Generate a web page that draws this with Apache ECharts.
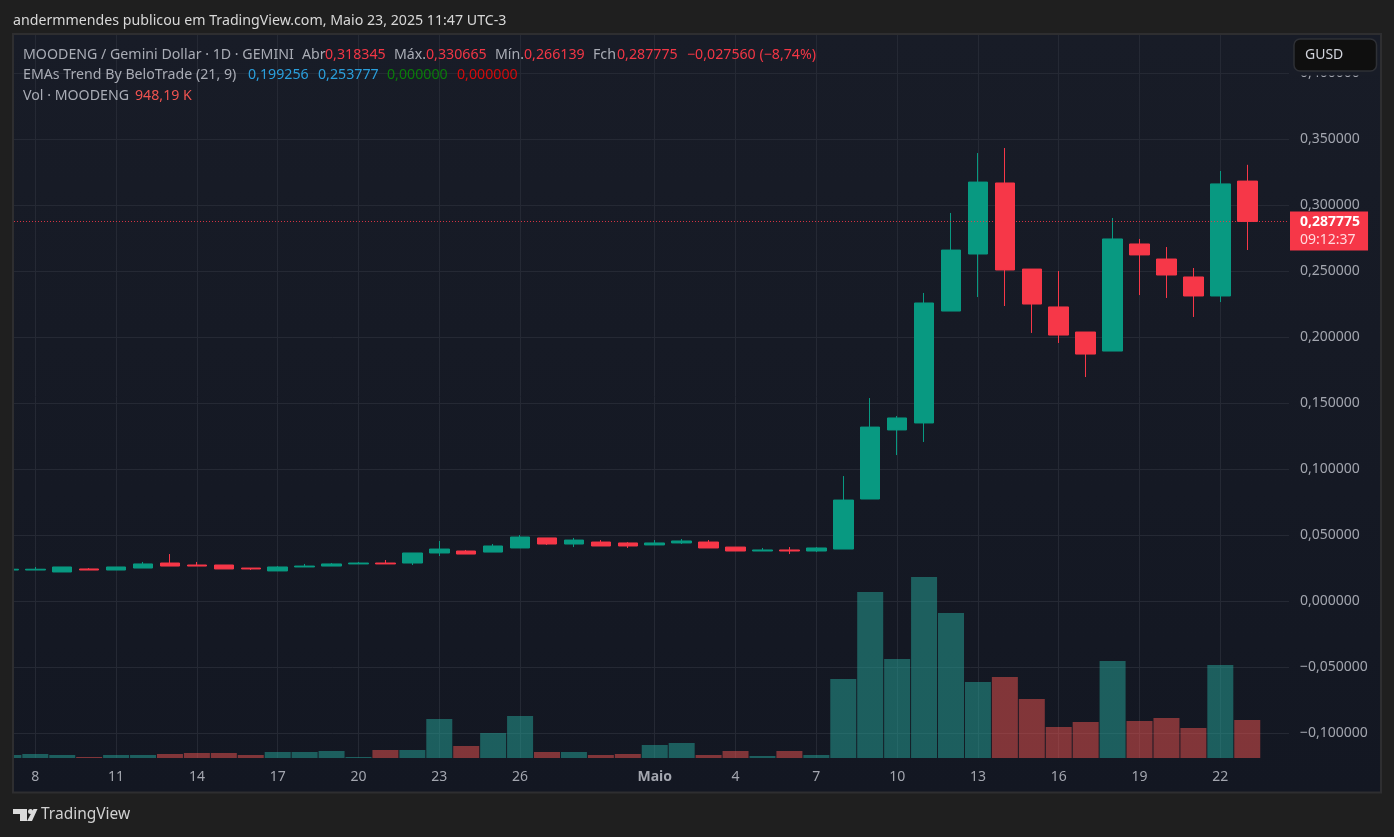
<!DOCTYPE html>
<html>
<head>
<meta charset="utf-8">
<style>
html, body { margin: 0; padding: 0; background: #1f1f1f; }
#chart { width: 1394px; height: 837px; }
</style>
<script src="https://cdn.jsdelivr.net/npm/echarts@6/dist/echarts.min.js"></script>
</head>
<body>
<div id="chart"></div>
<script>
// dias: 0 = 7 de abril, 46 = 23 de maio
const days = [0,1,2,3,4,5,6,7,8,9,10,11,12,13,14,15,16,17,18,19,20,21,22,23,24,25,26,27,28,29,30,31,32,33,34,35,36,37,38,39,40,41,42,43,44,45,46];
const opens = [.0237,.0237,.0222,.0245,.0237,.0252,.0290,.0275,.0275,.0252,.0230,.0260,.0267,.0283,.0290,.0290,.0366,.0381,.0373,.0404,.0480,.0434,.0449,.0442,.0427,.0442,.0449,.0411,.0381,.0389,.0381,.0396,.0775,.1298,.1351,.2199,.2631,.3169,.2517,.2230,.2040,.1896,.2707,.2593,.2457,.2313,.318345];
const closes = [.0243,.0243,.0260,.0237,.0260,.0283,.0267,.0267,.0245,.0245,.0260,.0267,.0283,.0290,.0283,.0366,.0396,.0358,.0419,.0487,.0434,.0464,.0419,.0419,.0442,.0457,.0404,.0381,.0389,.0381,.0404,.0767,.1320,.1389,.2260,.2661,.3176,.2510,.2252,.2017,.1873,.2745,.2624,.2472,.2313,.3162,.287775];
const lows = [.0237,.0237,.0222,.0237,.0237,.0252,.0267,.0267,.0245,.0237,.0230,.0260,.0267,.0283,.0283,.0275,.0343,.0358,.0373,.0404,.0427,.0411,.0419,.0404,.0427,.0434,.0404,.0381,.0381,.0358,.0373,.0396,.0775,.1108,.1207,.2199,.2305,.2237,.2033,.1957,.1699,.1896,.2320,.2298,.2154,.2267,.266139];
const highs = [.0250,.0260,.0260,.0252,.0260,.0298,.0358,.0298,.0275,.0252,.0267,.0283,.0290,.0298,.0313,.0366,.0457,.0389,.0434,.0502,.0480,.0480,.0464,.0449,.0464,.0472,.0464,.0411,.0404,.0411,.0411,.0949,.1540,.1404,.2336,.2942,.3396,.3434,.2517,.2502,.2040,.2904,.2745,.2684,.2525,.3260,.330665];
// volume em milhares
const volumes = [75,100,75,25,75,75,100,125,125,75,150,150,175,25,200,200,973,299,624,1048,150,150,75,100,324,374,75,175,50,175,75,1971,4142,2470,4516,3618,1896,2021,1472,773,898,2420,923,998,749,2320,948.19];
const xTickDays = [1,4,7,10,13,16,19,24,27,30,33,36,39,42,45];
const xTickLabels = ['8','11','14','17','20','23','26','Maio','4','7','10','13','16','19','22'];
const yTicks = [-0.1,-0.05,0,0.05,0.1,0.15,0.2,0.25,0.3,0.35,0.4];
const lastPrice = 0.287775;
const countdown = '09:12:37';

const headerText = 'andermmendes publicou em TradingView.com, Maio 23, 2025 11:47 UTC-3';
const legendRows = [
    [['MOODENG / Gemini Dollar · 1D · GEMINI', 23, 'dim'], ['Abr', 302, 'dim'], ['0,318345', 325, 'red'], ['Máx.', 394, 'dim'], ['0,330665', 426, 'red'], ['Mín.', 495, 'dim'], ['0,266139', 524, 'red'], ['Fch', 593, 'dim'], ['0,287775', 617, 'red'], ['−0,027560 (−8,74%)', 687, 'red']],
    [['EMAs Trend By BeloTrade (21, 9)', 23, 'dim'], ['0,199256', 248, 'blue'], ['0,253777', 318, 'blue'], ['0,000000', 387, 'green'], ['0,000000', 457, 'pure']],
    [['Vol · MOODENG', 23, 'dim'], ['948,19 K', 135, 'vol']]
];
const legendColors = { dim: '#a9acb5', red: '#f23645', blue: '#2a9fdc', green: '#0a7d0a', pure: '#d40b0b', vol: '#ef5350' };

const UP = '#089981';
const DOWN = '#f63748';
const FONT = '"Noto Sans", sans-serif';
const AXIS_TEXT = '#a3a6af';
const GRID_LINE = '#252934';
const PAGE_BG = '#1f1f1f';
const FRAME = '#2e2e30';

const fmtPrice = v => v.toFixed(6).replace('.', ',').replace('-', '−');

const chart = echarts.init(document.getElementById('chart'));

const candleData = days.map((d, i) => [d, opens[i], closes[i], lows[i], highs[i]]);
const volumeData = days.map((d, i) => ({
    value: [d, volumes[i]],
    itemStyle: { color: closes[i] >= opens[i] ? 'rgba(38,166,154,0.5)' : 'rgba(239,83,80,0.5)' }
}));

// textos e enfeites fora do grafico
const graphics = [
    {
        type: 'rect', z: -10, silent: true,
        shape: { x: 13, y: 34, width: 1368, height: 758.5 },
        style: {
            fill: new echarts.graphic.LinearGradient(0, 0, 0, 1, [
                { offset: 0, color: '#181c27' }, { offset: 1, color: '#131722' }
            ]),
            stroke: FRAME, lineWidth: 2
        }
    },
    // cobre o que passa da borda esquerda do painel
    { type: 'rect', z: 60, silent: true, shape: { x: 0, y: 36, width: 12, height: 755 }, style: { fill: PAGE_BG } },
    { type: 'rect', z: 60, silent: true, shape: { x: 12, y: 34, width: 2, height: 758 }, style: { fill: FRAME } },
    { type: 'text', x: 13, y: 21, style: { text: headerText, fill: '#d8d8d8', font: '14.2px ' + FONT, textVerticalAlign: 'middle' } },
    // bloco GUSD por cima do rotulo 0,400000
    { type: 'rect', z: 50, silent: true, shape: { x: 1290, y: 36, width: 90, height: 39.5 }, style: { fill: '#181c27' } },
    { type: 'rect', z: 51, silent: true, shape: { x: 1294, y: 39, width: 82.5, height: 32, r: 6 }, style: { fill: '#0f0f0f', stroke: '#2e3036', lineWidth: 1.5 } },
    { type: 'text', z: 52, x: 1305, y: 55, style: { text: 'GUSD', fill: '#d1d4dc', font: '14px ' + FONT, textVerticalAlign: 'middle' } },
    // logo
    { type: 'polygon', shape: { points: [[13, 809], [27, 809], [27, 821], [20, 821], [20, 814], [13, 814]] }, style: { fill: '#dcdcdc' } },
    { type: 'circle', shape: { cx: 30.5, cy: 811.5, r: 2.5 }, style: { fill: '#dcdcdc' } },
    { type: 'polygon', shape: { points: [[33.5, 809], [37.5, 809], [32, 821], [27, 821]] }, style: { fill: '#dcdcdc' } },
    { type: 'text', x: 41, y: 815, style: { text: 'TradingView', fill: '#d0d0d0', font: '15.5px ' + FONT, textVerticalAlign: 'middle' } }
];
legendRows.forEach((row, r) => {
    row.forEach(([text, x, tone]) => {
        graphics.push({
            type: 'text', z: 40, x: x, y: 54.5 + r * 20.5,
            style: { text: text, fill: legendColors[tone], font: '14.2px ' + FONT, textVerticalAlign: 'middle' }
        });
    });
});

const option = {
    animation: false,
    backgroundColor: PAGE_BG,
    graphic: graphics,
    grid: { left: 14, right: 105, top: 35, height: 723 },
    xAxis: {
        type: 'value',
        min: 0.209,
        max: 47.55,
        axisLine: { show: false },
        axisTick: { show: false, customValues: xTickDays },
        splitLine: { show: true, lineStyle: { color: GRID_LINE, width: 1 } },
        axisLabel: {
            customValues: xTickDays,
            color: AXIS_TEXT,
            fontFamily: FONT,
            fontSize: 14,
            margin: 12,
            formatter: v => {
                const label = xTickLabels[xTickDays.indexOf(v)];
                return label === 'Maio' ? '{month|Maio}' : label;
            },
            rich: { month: { color: AXIS_TEXT, fontFamily: FONT, fontSize: 14, fontWeight: 'bold' } }
        }
    },
    yAxis: [
        {
            type: 'value',
            position: 'right',
            min: -0.11871,
            max: 0.42902,
            axisLine: { show: false },
            axisTick: { show: false, customValues: yTicks },
            splitLine: { show: true, lineStyle: { color: GRID_LINE, width: 1 } },
            axisLabel: {
                customValues: yTicks,
                color: AXIS_TEXT,
                fontFamily: FONT,
                fontSize: 14,
                margin: 11,
                padding: [0, 0, 2, 0],
                formatter: fmtPrice
            }
        },
        // escala do volume, escondida
        { type: 'value', show: false, min: 0, max: 18039, splitLine: { show: false } }
    ],
    series: [
        {
            type: 'bar',
            yAxisIndex: 1,
            barWidth: 26,
            clip: true,
            z: 1,
            data: volumeData,
            silent: true
        },
        {
            type: 'candlestick',
            yAxisIndex: 0,
            barWidth: 20,
            z: 3,
            clip: true,
            itemStyle: { color: UP, color0: DOWN, borderColor: UP, borderColor0: DOWN, borderWidth: 1 },
            data: candleData,
            markLine: {
                silent: true,
                symbol: 'none',
                animation: false,
                precision: 6,
                data: [{ yAxis: lastPrice }],
                lineStyle: { color: 'rgba(246,55,72,0.85)', type: [1, 2], width: 1 },
                label: {
                    position: 'end',
                    distance: 1,
                    offset: [0, 9.5],
                    align: 'left',
                    verticalAlign: 'middle',
                    backgroundColor: DOWN,
                    padding: [1, 8, 1, 10],
                    formatter: () => '{p|' + fmtPrice(lastPrice) + '}\n{t|' + countdown + '}',
                    rich: {
                        p: { color: '#ffffff', fontFamily: FONT, fontSize: 14, fontWeight: 'bold', lineHeight: 19 },
                        t: { color: '#ffd9dd', fontFamily: FONT, fontSize: 14, lineHeight: 18 }
                    }
                }
            }
        }
    ]
};

chart.setOption(option);
</script>
</body>
</html>
